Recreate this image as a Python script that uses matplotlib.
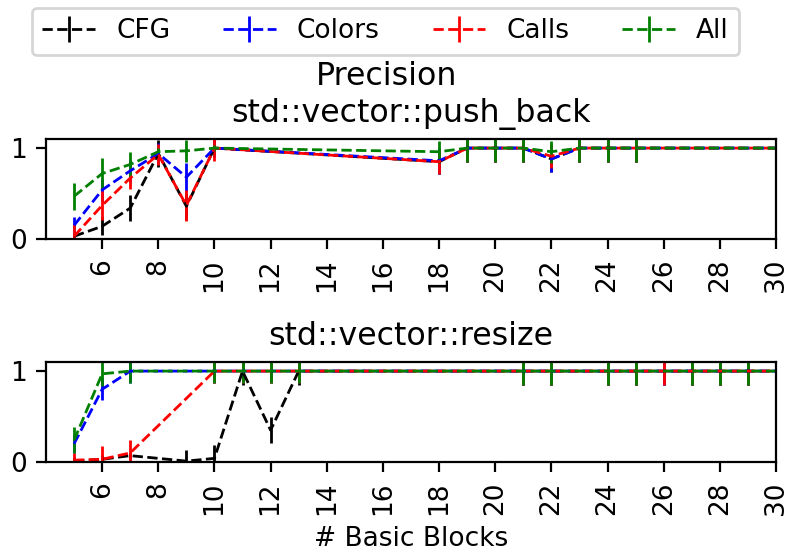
import numpy as np
import matplotlib
matplotlib.use("Agg")
import matplotlib.pyplot as plt

plt.rcParams["font.family"] = ["DejaVu Sans"]
plt.rcParams["font.size"] = 9.5

# ---- std::vector::push_back ----
push_x = [5, 6, 7, 8, 9, 10, 18, 19, 20, 21, 22, 23, 24, 25, 26, 27, 28, 29, 30]
push_cfg = [0.03, 0.14, 0.34, 0.94, 0.36, 1.0, 0.85, 1, 1, 1, 0.88, 1, 1, 1, 1, 1, 1, 1, 1]
push_cfg_err = [0.05, 0.1, 0.14, 0.15, 0.15, 0.1, 0.14, 0.15, 0.15, 0.15, 0.14, 0.15, 0.15, 0.15, 0, 0, 0, 0, 0]
push_colors = [0.15, 0.54, 0.75, 0.94, 0.68, 1.0, 0.86, 1, 1, 1, 0.88, 1, 1, 1, 1, 1, 1, 1, 1]
push_colors_err = [0.09, 0.12, 0.12, 0.12, 0.16, 0.1, 0.14, 0.15, 0.15, 0.15, 0.14, 0.15, 0.15, 0.15, 0, 0, 0, 0, 0]
push_calls = [0.03, 0.37, 0.67, 0.93, 0.37, 1.0, 0.85, 1, 1, 1, 0.91, 1, 1, 1, 1, 1, 1, 1, 1]
push_calls_err = [0.13, 0.16, 0.12, 0.12, 0.17, 0.14, 0.14, 0.15, 0.15, 0.15, 0.13, 0.15, 0.15, 0.15, 0, 0, 0, 0, 0]
push_all = [0.47, 0.72, 0.82, 0.96, 0.97, 1.0, 0.96, 1, 1, 1, 0.96, 1, 1, 1, 1, 1, 1, 1, 1]
push_all_err = [0.15, 0.17, 0.14, 0.04, 0.12, 0.03, 0.12, 0.15, 0.15, 0.15, 0.12, 0.15, 0.15, 0.15, 0, 0, 0, 0, 0]

# ---- std::vector::resize ----
resize_cfg_x = [5, 6, 7, 9, 10, 11, 12, 13, 21, 22, 23, 24, 25, 26, 27, 28, 29, 30]
resize_cfg = [0.01, 0.03, 0.07, 0.01, 0.04, 1.0, 0.35, 1.0, 1, 1, 1, 1, 1, 1, 1, 1, 1, 1]
resize_cfg_err = [0.05, 0.05, 0.04, 0.12, 0.15, 0.15, 0.14, 0.15, 0.15, 0.15, 0, 0.15, 0.15, 0.15, 0.15, 0.15, 0.15, 0]

resize_x = [5, 6, 7, 10, 11, 12, 13, 21, 22, 23, 24, 25, 26, 27, 28, 29, 30]
resize_colors = [0.2, 0.8, 1.0, 1.0, 1, 1, 1, 1, 1, 1, 1, 1, 1, 1, 1, 1, 1]
resize_colors_err = [0.1, 0.12, 0.13, 0.13, 0.13, 0.13, 0.13, 0.15, 0.15, 0, 0.15, 0.15, 0.15, 0.15, 0.15, 0.15, 0]
resize_calls = [0.02, 0.03, 0.1, 1.0, 1, 1, 1, 1, 1, 1, 1, 1, 1, 1, 1, 1, 1]
resize_calls_err = [0.08, 0.15, 0.14, 0.13, 0.13, 0.13, 0.13, 0.15, 0.15, 0, 0.15, 0.15, 0.15, 0.15, 0.15, 0.15, 0]
resize_all = [0.24, 0.97, 1.0, 1.0, 1, 1, 1, 1, 1, 1, 1, 1, 1, 1, 1, 1, 1]
resize_all_err = [0.14, 0.13, 0.13, 0.13, 0.13, 0.13, 0.13, 0.15, 0.15, 0, 0.15, 0.15, 0, 0.15, 0.15, 0.15, 0]

series_names = ["CFG", "Colors", "Calls", "All"]
series_colors = ["black", "blue", "red", "green"]
x_ticks = list(range(6, 31, 2))

W, H = 786, 546
fig = plt.figure(figsize=(W / 200, H / 200), dpi=200)


def px_axes(left, top, right, bottom):
    return fig.add_axes([left / W, 1 - bottom / H, (right - left) / W, (bottom - top) / H])


ax_top = px_axes(46, 139, 776, 239)
ax_bot = px_axes(46, 362, 776, 462)

top_data = [(push_x, push_cfg, push_cfg_err),
            (push_x, push_colors, push_colors_err),
            (push_x, push_calls, push_calls_err),
            (push_x, push_all, push_all_err)]
bot_data = [(resize_cfg_x, resize_cfg, resize_cfg_err),
            (resize_x, resize_colors, resize_colors_err),
            (resize_x, resize_calls, resize_calls_err),
            (resize_x, resize_all, resize_all_err)]

handles = []
for ax, data, title in [(ax_top, top_data, "std::vector::push_back"),
                        (ax_bot, bot_data, "std::vector::resize")]:
    hs = []
    for (x, y, e), name, c in zip(data, series_names, series_colors):
        h = ax.errorbar(x, y, yerr=e, color=c, ecolor=c, linestyle="--",
                        linewidth=1.0, elinewidth=1.0, label=name)
        hs.append(h)
    if not handles:
        handles = hs
    ax.set_xlim(4, 30)
    ax.set_ylim(0, 1.1)
    ax.set_yticks([0, 1])
    ax.set_xticks(x_ticks)
    ax.tick_params(axis="x", labelrotation=90)
    ax.set_title(title)

ax_bot.set_xlabel("# Basic Blocks")

fig.text(387 / W, 1 - 77 / H, "Precision", ha="center", va="center", fontsize="large")

fig.legend(handles, series_names, ncol=4, loc="center",
           bbox_to_anchor=(385.5 / W, 1 - 31.3 / H), frameon=True)

fig.savefig("out.png", dpi=200)
